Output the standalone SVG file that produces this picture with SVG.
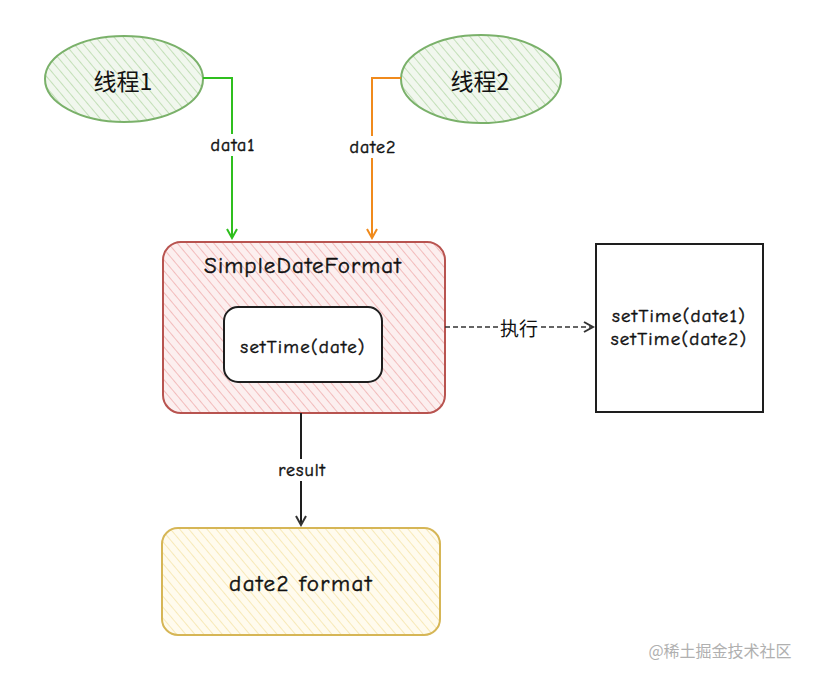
<svg xmlns="http://www.w3.org/2000/svg" width="815" height="680" viewBox="0 0 815 680">
<style>
text{font-family:"Comic Neue","Liberation Sans","Noto Sans CJK SC",sans-serif;fill:#111;stroke:#111;stroke-width:0.45px;text-anchor:middle;dominant-baseline:central}
.lbl{font-size:18px;letter-spacing:1px}
.big{font-size:19px;letter-spacing:1.2px}
.cn{font-family:"Noto Sans CJK SC","Liberation Sans",sans-serif;letter-spacing:0;stroke:none}
</style>
<defs>
<pattern id="hg" patternUnits="userSpaceOnUse" width="7" height="7" patternTransform="rotate(-40)"><rect width="7" height="7" fill="#f1f7ee"/><line x1="0" y1="0" x2="0" y2="7" stroke="#c3dfb8" stroke-width="2"/></pattern>
<pattern id="hr" patternUnits="userSpaceOnUse" width="7" height="7" patternTransform="rotate(-40)"><rect width="7" height="7" fill="#fcefef"/><line x1="0" y1="0" x2="0" y2="7" stroke="#f2bcbc" stroke-width="2"/></pattern>
<pattern id="hy" patternUnits="userSpaceOnUse" width="7" height="7" patternTransform="rotate(-40)"><rect width="7" height="7" fill="#fffbee"/><line x1="0" y1="0" x2="0" y2="7" stroke="#f7e9b8" stroke-width="2"/></pattern>
<marker id="ag" markerWidth="12" markerHeight="12" refX="10" refY="6" orient="auto" markerUnits="userSpaceOnUse"><path d="M1,1 L10,6 L1,11" fill="none" stroke="#2fbf1e" stroke-width="2"/></marker>
<marker id="ao" markerWidth="12" markerHeight="12" refX="10" refY="6" orient="auto" markerUnits="userSpaceOnUse"><path d="M1,1 L10,6 L1,11" fill="none" stroke="#f08a1c" stroke-width="2"/></marker>
<marker id="ak" markerWidth="12" markerHeight="12" refX="10" refY="6" orient="auto" markerUnits="userSpaceOnUse"><path d="M1,1 L10,6 L1,11" fill="none" stroke="#333" stroke-width="2"/></marker>
</defs>
<rect width="815" height="680" fill="#fff"/>
<g id="thread1"><ellipse cx="124" cy="79" rx="79" ry="43" fill="url(#hg)" stroke="#7ab16a" stroke-width="2"/><text x="123" y="80" font-size="23" class="cn">线程1</text></g>
<g id="thread2"><ellipse cx="481" cy="79" rx="80" ry="44" fill="url(#hg)" stroke="#7ab16a" stroke-width="2"/><text x="480" y="80" font-size="23" class="cn">线程2</text></g>
<g id="sdf"><rect x="163" y="242" width="282" height="171" rx="18" fill="url(#hr)" stroke="#b85450" stroke-width="2"/><text x="303" y="265" font-size="23" letter-spacing="1.1">SimpleDateFormat</text></g>
<g id="settime"><rect x="224" y="307" width="158" height="75" rx="14" fill="#fff" stroke="#1e1e1e" stroke-width="2"/><text x="303" y="347" class="big">setTime(date)</text></g>
<g id="exec"><rect x="596" y="244" width="167" height="168" fill="#fff" stroke="#1e1e1e" stroke-width="2"/><text x="679" y="316" class="big">setTime(date1)</text><text x="679" y="339" class="big">setTime(date2)</text></g>
<g id="result"><rect x="162" y="528" width="278" height="107" rx="16" fill="url(#hy)" stroke="#d6b656" stroke-width="2"/><text x="301" y="583" font-size="23" letter-spacing="1.5">date2 format</text></g>
<g id="connectors" fill="none" stroke-width="2">
<path d="M203,78 H232 V238" stroke="#2fbf1e" marker-end="url(#ag)"/>
<path d="M401,78 H372 V238" stroke="#f08a1c" marker-end="url(#ao)"/>
<path d="M445,327 H593" stroke="#333" stroke-width="1.5" stroke-dasharray="5 3" marker-end="url(#ak)"/>
<path d="M301,413 V525" stroke="#1e1e1e" marker-end="url(#ak)"/>
<rect x="206" y="134" width="52" height="22" fill="#fff" stroke="none"/>
<rect x="346" y="136" width="52" height="22" fill="#fff" stroke="none"/>
<rect x="501" y="318" width="37" height="18" fill="#fff" stroke="none"/>
<rect x="274" y="459" width="54" height="22" fill="#fff" stroke="none"/>
</g>
<g id="labels">
<text x="233" y="145" class="lbl">data1</text>
<text x="373" y="147" class="lbl">date2</text>
<text x="519" y="327" font-size="19" class="cn">执行</text>
<text x="302" y="470" class="lbl">result</text>
</g>
<text x="720" y="650" font-size="16" class="cn" style="fill:#b0b0b0">@稀土掘金技术社区</text>
</svg>
